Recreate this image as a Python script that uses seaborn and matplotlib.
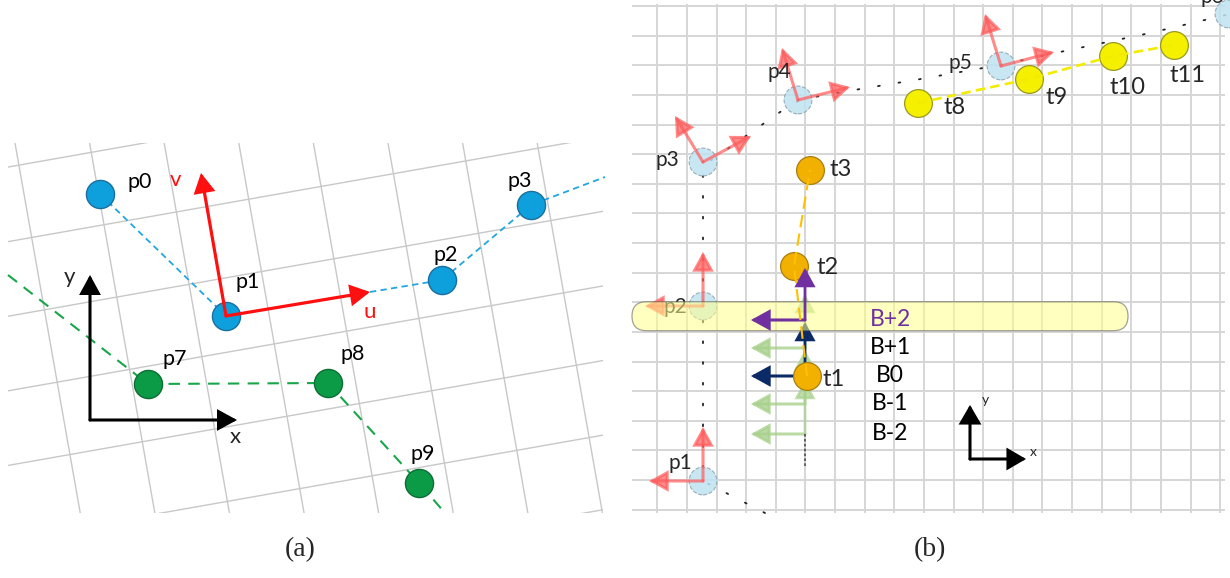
import numpy as np
import pandas as pd
import matplotlib
matplotlib.use("Agg")
import matplotlib.pyplot as plt
from matplotlib.patches import Rectangle, FancyBboxPatch
import seaborn as sns

sns.set_theme(style="white")
plt.rcParams["font.family"] = ["Lato", "DejaVu Sans"]

# ---------------- panel (a): rotated local frame ----------------
A_NAMES = ["p0", "p1", "p2", "p3"]
A_X = [100, 226, 442, 531]
A_Y = [194, 316, 280, 205]
A_LBL_X = [140, 248, 446, 520]
A_LBL_Y = [182, 282, 255, 181]

G_NAMES = ["p7", "p8", "p9"]
G_X = [148, 328, 419]
G_Y = [384, 383, 483]
G_LBL_X = [175, 353, 423]
G_LBL_Y = [359, 354, 454]

A_BLUE_PATH = [([100, 226], [194, 316]), ([370, 442, 531, 605], [292, 280, 205, 177])]
A_GREEN_PATH = ([8, 148, 328, 419, 445], [275, 384, 383, 483, 513])

A_U_TIP = (370, 292)
A_V_TIP = (201, 173)
A_AXES_ORIGIN = (90, 420)
A_AXES_LEN = (147, 145)

GRID_A_STEP = 74.6
GRID_A_ANGLE = 10.0
GRID_A_BOX = (8, 143, 603, 513)

# ---------------- panel (b): path frames and bands ----------------
B_NAMES = ["p1", "p2", "p3", "p4", "p5", "p6"]
B_X = [703, 703, 703, 798, 1001, 1229]
B_Y = [481, 306, 162, 100, 66, 14]
B_LBL_X = [680, 675, 667, 779, 960, 1212]
B_LBL_Y = [463, 307, 160, 72, 63, -3]
# frame arrow tips (first axis, second axis) for each p
B_TIP1 = [(703, 427), (703, 252), (675, 116), (782, 48), (985, 14)]
B_TIP2 = [(649, 481), (645, 306), (751, 136), (850, 87), (1054, 52)]

PATH_X = [765, 703, 703, 783, 800, 830, 915, 1000, 1060, 1150, 1230]
PATH_Y = [513, 481, 166, 110, 100, 94, 80, 65, 52, 33, 14]

T_ORANGE = ["t1", "t2", "t3"]
T_ORANGE_X = [807, 794, 810]
T_ORANGE_Y = [376, 266, 170]
T_ORANGE_LBL_X = [834, 828, 841]
T_ORANGE_LBL_Y = [380, 267, 170]

T_YELLOW = ["t8", "t9", "t10", "t11"]
T_YELLOW_X = [918, 1029, 1113, 1174]
T_YELLOW_Y = [103, 79, 56, 45]
T_YELLOW_LBL_X = [955, 1057, 1127, 1188]
T_YELLOW_LBL_Y = [108, 98, 88, 75]

BAND_LABELS = ["B+2", "B+1", "B0", "B-1", "B-2"]
BAND_Y = [320, 348, 376, 404, 434]
BAND_LBL_X = 890
BAND_X = 805
BAND_ARROW_LEN = 54

GRID_B_X0, GRID_B_Y0, GRID_B_STEP = 657.3, 6.0, 29.63
GRID_B_BOX = (632, 4, 1225, 513)

B_AXES_ORIGIN = (970, 459)
B_AXES_LEN = (56, 54)

fig = plt.figure(figsize=(12.3, 5.78), dpi=100)
ax = fig.add_axes([0, 0, 1, 1])
ax.set_xlim(0, 1230)
ax.set_ylim(578, 0)
ax.axis("off")


def arrow(p0, p1, color, lw, alpha=1.0, hl=0.55, hw=0.3, ms=20, z=3):
    ax.annotate("", xy=p1, xytext=p0,
                arrowprops=dict(arrowstyle=f"-|>,head_length={hl},head_width={hw}",
                                color=color, lw=lw, alpha=alpha, shrinkA=0, shrinkB=0,
                                mutation_scale=ms, joinstyle="miter"),
                zorder=z)


# ---- rotated grid (a)
clip_a = Rectangle((GRID_A_BOX[0], GRID_A_BOX[1]), GRID_A_BOX[2] - GRID_A_BOX[0],
                   GRID_A_BOX[3] - GRID_A_BOX[1], transform=ax.transData, fill=False, lw=0)
ax.add_patch(clip_a)
t = np.tan(np.radians(GRID_A_ANGLE))
for k in range(-2, 9):
    y0 = 166.7 + GRID_A_STEP * k
    xs = np.array([-50, 700])
    ln, = ax.plot(xs, y0 - t * (xs - 10), color="#c8c8c8", lw=1.0, zorder=0)
    ln.set_clip_path(clip_a)
for k in range(-2, 10):
    x0 = 15 + GRID_A_STEP * k
    ys = np.array([100, 560])
    ln, = ax.plot(x0 + t * (ys - 143), ys, color="#c8c8c8", lw=1.0, zorder=0)
    ln.set_clip_path(clip_a)

# ---- dashed tracks (a)
for xs, ys in A_BLUE_PATH:
    ax.plot(xs, ys, color="#22a6e0", lw=1.3, ls=(0, (3.5, 2.4)), zorder=1)
ax.plot(*A_GREEN_PATH, color="#19a64a", lw=1.5, ls=(0, (5.5, 4)), zorder=1)

# ---- points (a)
sns.scatterplot(x=A_X, y=A_Y, s=410, color="#0ea0dc", edgecolor="#1b6e9e",
                linewidth=1.0, ax=ax, zorder=4, legend=False)
sns.scatterplot(x=G_X, y=G_Y, s=410, color="#0b9a46", edgecolor="#0d6d34",
                linewidth=1.0, ax=ax, zorder=4, legend=False)
for n, x, y in zip(A_NAMES + G_NAMES, A_LBL_X + G_LBL_X, A_LBL_Y + G_LBL_Y):
    ax.text(x, y, n, ha="center", va="center", fontsize=15.5, color="black", zorder=6)

# ---- local frame u, v at p1
arrow((A_X[1], A_Y[1]), A_U_TIP, "#ff1010", 2.3, z=5)
arrow((A_X[1], A_Y[1]), A_V_TIP, "#ff1010", 2.3, z=5)
ax.text(370, 312, "u", color="#ff1010", fontsize=16, ha="center", va="center")
ax.text(176, 180, "v", color="#ff1010", fontsize=16, ha="center", va="center")

# ---- world axes (a)
ox, oy = A_AXES_ORIGIN
arrow((ox, oy), (ox + A_AXES_LEN[0], oy), "black", 2.2, z=5)
arrow((ox, oy), (ox, oy - A_AXES_LEN[1]), "black", 2.2, z=5)
ax.text(235, 437, "x", fontsize=16, ha="center", va="center")
ax.text(70, 277, "y", fontsize=16, ha="center", va="center")

# ---- square grid (b)
gx = GRID_B_X0 + GRID_B_STEP * np.arange(0, 20)
gy = GRID_B_Y0 + GRID_B_STEP * np.arange(0, 18)
ax.vlines(gx, GRID_B_BOX[1], GRID_B_BOX[3], color="#d6d6d6", lw=1.4, zorder=0)
ax.hlines(gy, GRID_B_BOX[0], GRID_B_BOX[2], color="#d6d6d6", lw=1.4, zorder=0)

# ---- reference path (dotted)
ax.plot(PATH_X, PATH_Y, color="#222222", lw=1.3, ls=(0, (1, 10.5)), zorder=1,
        dash_capstyle="round")

# ---- path samples with their frames
sns.scatterplot(x=B_X, y=B_Y, s=400, color="#bfe3f2", alpha=0.85, edgecolor="#8aa2ae",
                linewidth=0.8, linestyle="--", ax=ax, zorder=2, legend=False)
for (x, y), a1, a2 in zip(zip(B_X, B_Y), B_TIP1, B_TIP2):
    arrow((x, y), a1, "#ff5a5a", 2.2, alpha=0.7, hl=0.6, hw=0.33, ms=18, z=3)
    arrow((x, y), a2, "#ff5a5a", 2.2, alpha=0.7, hl=0.6, hw=0.33, ms=18, z=3)
for n, x, y in zip(B_NAMES, B_LBL_X, B_LBL_Y):
    ax.text(x, y, n, ha="center", va="center", fontsize=15, zorder=3)

# ---- candidate band arrows
for lbl, by in zip(BAND_LABELS, BAND_Y):
    if lbl in ("B+1", "B-1", "B-2"):
        arrow((BAND_X, by), (BAND_X - BAND_ARROW_LEN, by), "#a9d18e", 2.2, alpha=0.8,
              hl=0.6, hw=0.33, ms=18, z=3)
        arrow((BAND_X, by), (BAND_X, by - BAND_ARROW_LEN), "#a9d18e", 2.0, alpha=0.7,
              hl=0.6, hw=0.33, ms=18, z=3)
ax.plot([BAND_X, BAND_X], [BAND_Y[-1], 468], color="#555555", lw=1.3,
        ls=(0, (1.5, 1.2)), zorder=3)
# B0 (navy)
arrow((BAND_X, BAND_Y[2]), (BAND_X - BAND_ARROW_LEN, BAND_Y[2]), "#0b2a66", 2.2,
      hl=0.6, hw=0.33, ms=18, z=3.5)
arrow((BAND_X, BAND_Y[2]), (BAND_X, BAND_Y[2] - BAND_ARROW_LEN), "#0b2a66", 2.0,
      hl=0.6, hw=0.33, ms=18, z=3.5)

# ---- selected band highlight
band = FancyBboxPatch((632, 301.7), 496, 29, boxstyle="round,pad=0,rounding_size=14.5",
                      facecolor="#ffff8c", alpha=0.55, edgecolor="#555555", lw=0.9, zorder=4)
ax.add_patch(band)

# B+2 (purple)
arrow((BAND_X, BAND_Y[0]), (BAND_X - BAND_ARROW_LEN, BAND_Y[0]), "#7030a0", 2.2,
      hl=0.6, hw=0.33, ms=18, z=5)
arrow((BAND_X, BAND_Y[0]), (BAND_X, BAND_Y[0] - BAND_ARROW_LEN + 2), "#7030a0", 2.0,
      hl=0.6, hw=0.33, ms=18, z=5)

for lbl, by in zip(BAND_LABELS, BAND_Y):
    ax.text(BAND_LBL_X, by, lbl, ha="center", va="center", fontsize=16.5,
            color="#7030a0" if lbl == "B+2" else "black", zorder=6)

# ---- tracked targets
ax.plot(T_ORANGE_X, T_ORANGE_Y, color="#ffc000", lw=1.5, ls=(0, (6, 3)), zorder=5)
sns.scatterplot(x=T_ORANGE_X, y=T_ORANGE_Y, s=400, color="#f2b000", edgecolor="#a87e10",
                linewidth=0.9, ax=ax, zorder=4.5, legend=False)
ax.plot(T_YELLOW_X, T_YELLOW_Y, color="#f3ec00", lw=1.9, ls=(0, (3.6, 2)), zorder=5)
sns.scatterplot(x=T_YELLOW_X, y=T_YELLOW_Y, s=400, color="#f5ef00", edgecolor="#9a9a20",
                linewidth=0.9, ax=ax, zorder=4.5, legend=False)
for n, x, y in zip(T_ORANGE + T_YELLOW, T_ORANGE_LBL_X + T_YELLOW_LBL_X,
                   T_ORANGE_LBL_Y + T_YELLOW_LBL_Y):
    ax.text(x, y, n, ha="center", va="center", fontsize=17, zorder=6)

# ---- world axes (b)
bx, by0 = B_AXES_ORIGIN
arrow((bx, by0), (bx + B_AXES_LEN[0], by0), "black", 2.2, hl=0.6, hw=0.35, ms=18, z=5)
arrow((bx, by0), (bx, by0 - B_AXES_LEN[1]), "black", 2.2, hl=0.6, hw=0.35, ms=18, z=5)
ax.text(1033, 452, "x", fontsize=10, ha="center", va="center")
ax.text(985, 400, "y", fontsize=10, ha="center", va="center")

# ---- captions
ax.text(300, 550, "(a)", fontsize=20, ha="center", va="center", family="Liberation Serif")
ax.text(930, 550, "(b)", fontsize=20, ha="center", va="center", family="Liberation Serif")

fig.savefig("out.png", dpi=100)
